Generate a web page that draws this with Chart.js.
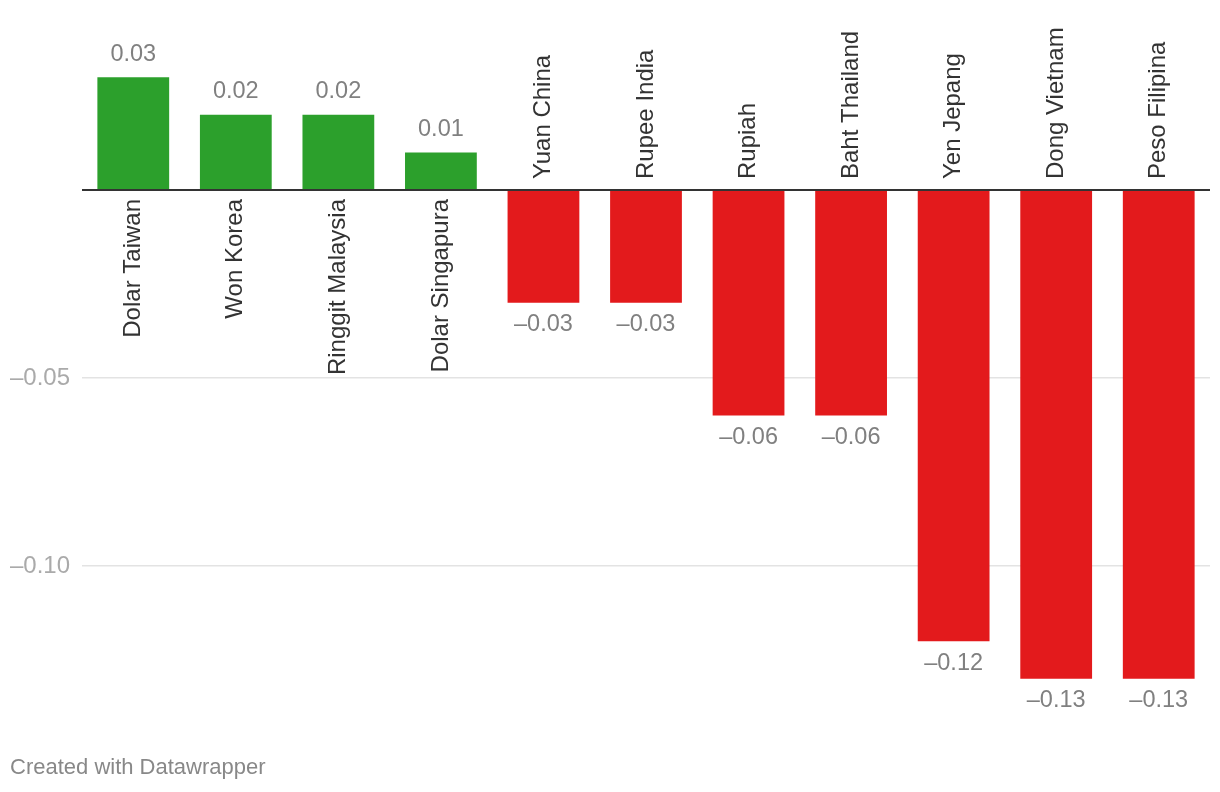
<!DOCTYPE html>
<html>
<head>
<meta charset="utf-8">
<script src="https://cdn.jsdelivr.net/npm/chart.js@4/dist/chart.umd.min.js"></script>
<style>
  html, body { margin: 0; padding: 0; background: #fff; }
  #wrap { position: relative; width: 1220px; height: 792px; }
  #footer { position: absolute; left: 10px; top: 754px; font-family: "Liberation Sans", Arial, Helvetica, sans-serif; font-size: 22px; color: #888; }
</style>
</head>
<body>
<div id="wrap">
  <canvas id="c" width="1220" height="792"></canvas>
  <div id="footer">Created with Datawrapper</div>
</div>
<script>
const categories = ["Dolar Taiwan", "Won Korea", "Ringgit Malaysia", "Dolar Singapura", "Yuan China", "Rupee India", "Rupiah", "Baht Thailand", "Yen Jepang", "Dong Vietnam", "Peso Filipina"];
const values = [0.03, 0.02, 0.02, 0.01, -0.03, -0.03, -0.06, -0.06, -0.12, -0.13, -0.13];
const valueLabels = ["0.03", "0.02", "0.02", "0.01", "–0.03", "–0.03", "–0.06", "–0.06", "–0.12", "–0.13", "–0.13"];
const yTickValues = [-0.10, -0.05];
const yTickLabels = ["–0.10", "–0.05"];

const FONT = '"Liberation Sans", Arial, Helvetica, sans-serif';
const GREEN = '#2ca02c';
const RED = '#e31a1c';

const labelPlugin = {
  id: 'labels',
  afterDatasetsDraw(chart) {
    const ctx = chart.ctx;
    const meta = chart.getDatasetMeta(0);
    const yScale = chart.scales.y;
    const zeroY = yScale.getPixelForValue(0);
    // zero line
    ctx.save();
    ctx.strokeStyle = '#333';
    ctx.lineWidth = 2;
    ctx.beginPath();
    ctx.moveTo(chart.chartArea.left, zeroY);
    ctx.lineTo(chart.chartArea.right, zeroY);
    ctx.stroke();
    ctx.restore();

    meta.data.forEach((bar, i) => {
      const v = values[i];
      // value labels
      ctx.save();
      ctx.font = '23.5px ' + FONT;
      ctx.fillStyle = '#808080';
      ctx.textAlign = 'center';
      ctx.textBaseline = 'middle';
      if (v >= 0) ctx.fillText(valueLabels[i], bar.x, bar.y - 23);
      else ctx.fillText(valueLabels[i], bar.x, bar.y + 22);
      ctx.restore();
      // category labels rotated
      ctx.save();
      ctx.font = '24px ' + FONT;
      ctx.fillStyle = '#333';
      ctx.textBaseline = 'middle';
      ctx.translate(bar.x, zeroY);
      ctx.rotate(-Math.PI / 2);
      if (v >= 0) {
        ctx.textAlign = 'right';
        ctx.fillText(categories[i], -9, 0);
      } else {
        ctx.textAlign = 'left';
        ctx.fillText(categories[i], 11, 0);
      }
      ctx.restore();
    });
  }
};

new Chart(document.getElementById('c'), {
  type: 'bar',
  data: {
    labels: categories,
    datasets: [{
      data: values,
      backgroundColor: values.map(v => v >= 0 ? GREEN : RED),
      borderWidth: 0,
      barPercentage: 0.7,
      categoryPercentage: 1.0
    }]
  },
  options: {
    responsive: false,
    animation: false,
    devicePixelRatio: 1,
    layout: { padding: { left: 0, right: 10, top: 39.6, bottom: 75.6 } },
    plugins: { legend: { display: false }, tooltip: { enabled: false } },
    scales: {
      x: { display: false },
      y: {
        min: -0.14,
        max: 0.04,
        border: { display: false },
        afterBuildTicks(scale) { scale.ticks = yTickValues.map(v => ({ value: v })); },
        afterFit(scale) { scale.width = 82; },
        grid: { color: '#e3e3e3', lineWidth: 1.5, drawTicks: false },
        ticks: {
          padding: 12,
          color: '#aaa',
          font: { family: FONT, size: 24 },
          callback: (v) => {
            const idx = yTickValues.findIndex(t => Math.abs(t - v) < 1e-9);
            return idx >= 0 ? yTickLabels[idx] : '';
          }
        }
      }
    }
  },
  plugins: [labelPlugin]
});
</script>
</body>
</html>
